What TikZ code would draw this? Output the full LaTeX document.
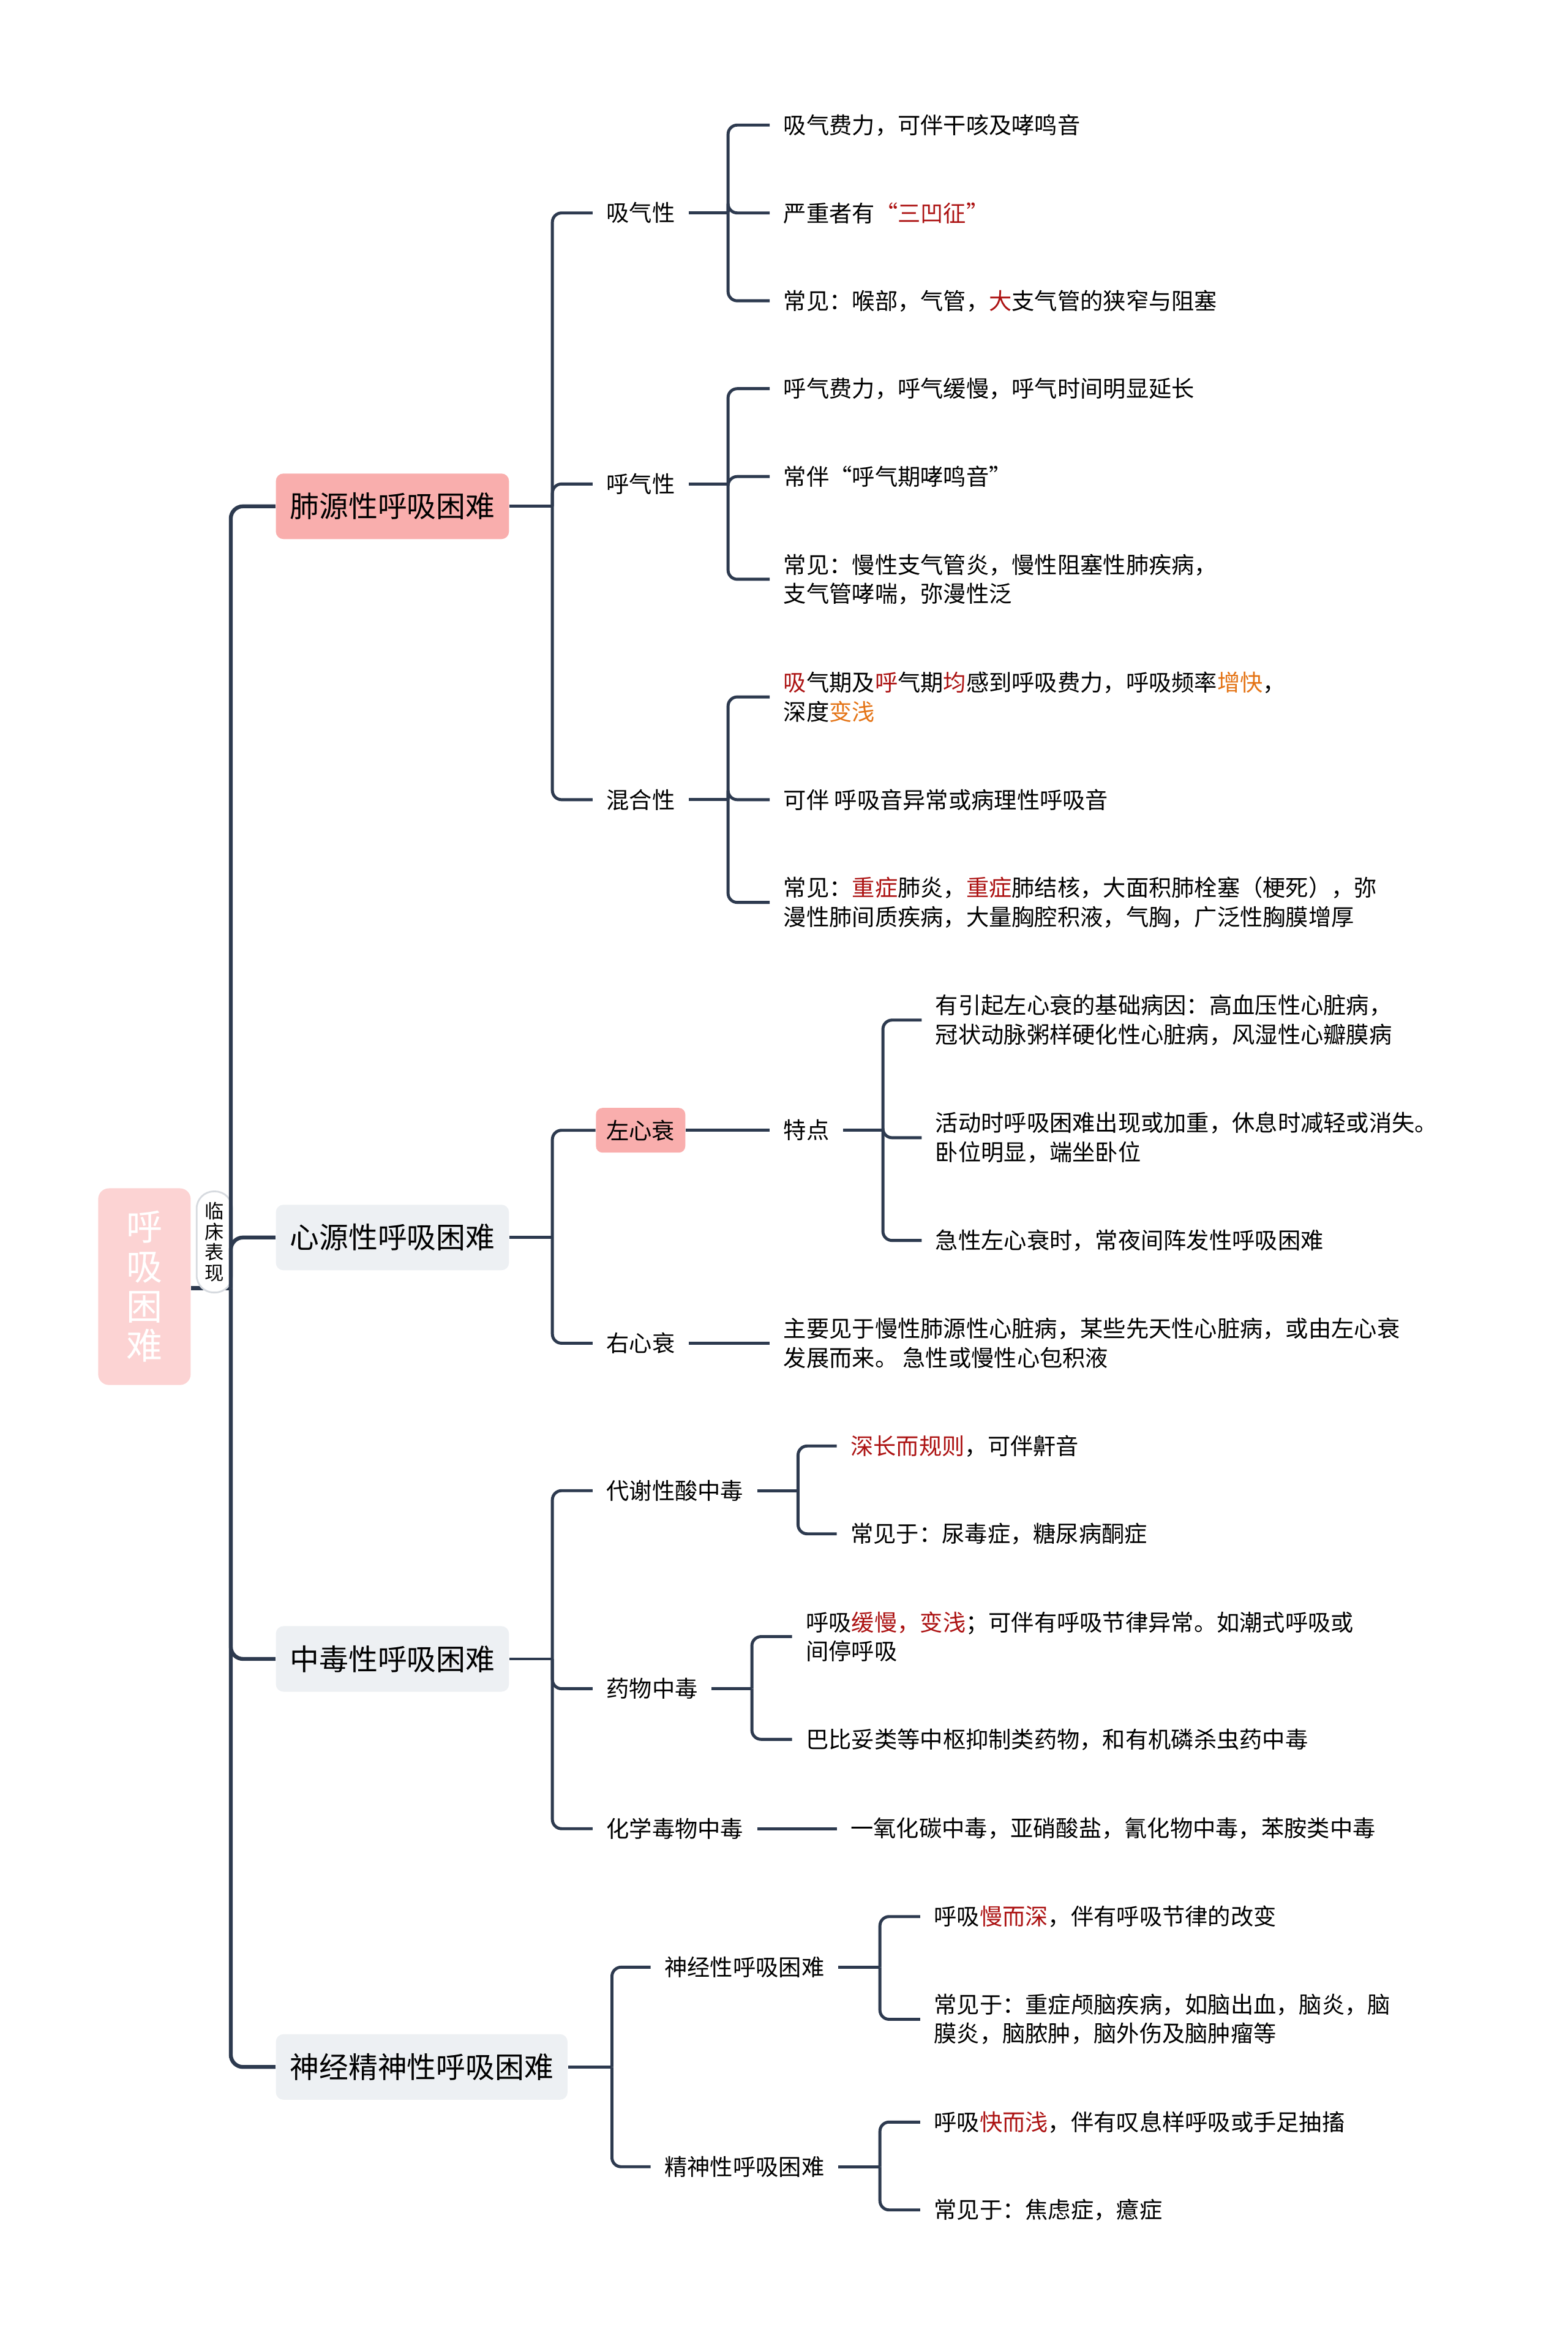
\documentclass[tikz,border=0pt]{standalone}
\usepackage{fontspec}
\setmainfont{Noto Sans CJK SC}
\usepackage{xcolor}
\usepackage{tikz}
\usetikzlibrary{positioning}

\definecolor{linkc}{RGB}{45,58,79}
\definecolor{pinkc}{RGB}{249,174,173}
\definecolor{rootc}{RGB}{252,211,211}
\definecolor{greyc}{RGB}{237,240,243}
\definecolor{pillc}{RGB}{214,218,223}
\definecolor{hl}{RGB}{172,18,18}
\definecolor{warm}{RGB}{228,116,22}

\begin{document}
\begin{tikzpicture}[
  x=0.02431cm, y=-0.02431cm,
  font=\fontsize{10.6}{13.5}\selectfont,
  rootbox/.style={rectangle, fill=rootc, rounded corners=5pt, text=white,
                  align=center, minimum width=1.51cm, minimum height=3.21cm,
                  font=\fontsize{16.8}{18.4}\selectfont},
  pill/.style={rectangle, draw=pillc, line width=0.8pt, fill=white,
               rounded corners=0.28cm, align=center, minimum width=0.58cm,
               minimum height=1.65cm, inner sep=0pt,
               font=\fontsize{8.9}{9.5}\selectfont},
  topic/.style={rectangle, rounded corners=3.5pt, fill=greyc, anchor=west,
                inner xsep=0.23cm, minimum height=1.07cm,
                font=\fontsize{13.6}{16}\selectfont},
  hottopic/.style={topic, fill=pinkc},
  subtopic/.style={anchor=west, inner xsep=0.22cm, inner ysep=2pt},
  hotsub/.style={rectangle, rounded corners=3pt, fill=pinkc, anchor=west,
                 inner xsep=0.17cm, minimum height=0.73cm},
  leaf/.style={anchor=west, align=left, inner xsep=0.22cm, inner ysep=2pt},
  link/.style={draw=linkc, line width=1.4pt, rounded corners=0.15cm},
  trunk/.style={draw=linkc, line width=1.8pt, rounded corners=0.2cm},
]
  \useasboundingbox (0,0) rectangle (1053,1568);

  % root and main topics
  \node[rootbox] (root) at (97,864) {呼\\吸\\困\\难};
  \node[hottopic] (lung)  at (185,340)  {肺源性呼吸困难};
  \node[topic]    (heart) at (185,831)  {心源性呼吸困难};
  \node[topic]    (toxic) at (185,1114) {中毒性呼吸困难};
  \node[topic]    (nerve) at (185,1388) {神经精神性呼吸困难};

  \coordinate (hub) at (155,865);
  \draw[trunk] (root.east |- hub) -- (hub);
  \node[pill] (clin) at (144,834) {临\\床\\表\\现};
  \draw[trunk] (hub) |- (lung.west);
  \draw[trunk] (hub) |- (heart.west);
  \draw[trunk] (hub) |- (toxic.west);
  \draw[trunk] (hub) |- (nerve.west);

  % lung
  \node[subtopic] (insp) at (398,143) {吸气性};
  \node[subtopic] (expi) at (398,325) {呼气性};
  \node[subtopic] (mixd) at (398,537) {混合性};
  \coordinate (lungj) at (371,340);
  \draw[link] (lung.east) -- (lungj);
  \draw[link] (lungj) |- (insp.west);
  \draw[link] (lungj) |- (expi.west);
  \draw[link] (lungj) |- (mixd.west);

  \node[leaf] (insp1) at (517,84)  {吸气费力，可伴干咳及哮鸣音};
  \node[leaf] (insp2) at (517,143) {严重者有\textcolor{hl}{“三凹征”}};
  \node[leaf] (insp3) at (517,202) {常见：喉部，气管，\textcolor{hl}{大}支气管的狭窄与阻塞};
  \coordinate (inspj) at (489,143);
  \draw[link] (insp.east) -- (inspj);
  \draw[link] (inspj) |- (insp1.west);
  \draw[link] (inspj) |- (insp2.west);
  \draw[link] (inspj) |- (insp3.west);

  \node[leaf] (expi1) at (517,261) {呼气费力，呼气缓慢，呼气时间明显延长};
  \node[leaf] (expi2) at (517,320) {常伴“呼气期哮鸣音”};
  \node[leaf] (expi3) at (517,389) {常见：慢性支气管炎，慢性阻塞性肺疾病，\\支气管哮喘，弥漫性泛};
  \coordinate (expij) at (489,325);
  \draw[link] (expi.east) -- (expij);
  \draw[link] (expij) |- (expi1.west);
  \draw[link] (expij) |- (expi2.west);
  \draw[link] (expij) |- (expi3.west);

  \node[leaf] (mixd1) at (517,468) {\textcolor{hl}{吸}气期及\textcolor{hl}{呼}气期\textcolor{hl}{均}感到呼吸费力，呼吸频率\textcolor{warm}{增快}，\\深度\textcolor{warm}{变浅}};
  \node[leaf] (mixd2) at (517,537) {可伴 呼吸音异常或病理性呼吸音};
  \node[leaf] (mixd3) at (517,606) {常见：\textcolor{hl}{重症}肺炎，\textcolor{hl}{重症}肺结核，大面积肺栓塞（梗死），弥\\漫性肺间质疾病，大量胸腔积液，气胸，广泛性胸膜增厚};
  \coordinate (mixdj) at (489,537);
  \draw[link] (mixd.east) -- (mixdj);
  \draw[link] (mixdj) |- (mixd1.west);
  \draw[link] (mixdj) |- (mixd2.west);
  \draw[link] (mixdj) |- (mixd3.west);

  % heart
  \node[hotsub]   (left)  at (400,759) {左心衰};
  \node[subtopic] (right) at (398,902) {右心衰};
  \coordinate (heartj) at (371,831);
  \draw[link] (heart.east) -- (heartj);
  \draw[link] (heartj) |- (left.west);
  \draw[link] (heartj) |- (right.west);

  \node[subtopic] (feat) at (517,759) {特点};
  \draw[link] (left.east) -- (feat.west);
  \node[leaf] (feat1) at (619,685) {有引起左心衰的基础病因：高血压性心脏病，\\冠状动脉粥样硬化性心脏病，风湿性心瓣膜病};
  \node[leaf] (feat2) at (619,764) {活动时呼吸困难出现或加重，休息时减轻或消失。\\卧位明显，端坐卧位};
  \node[leaf] (feat3) at (619,833) {急性左心衰时，常夜间阵发性呼吸困难};
  \coordinate (featj) at (593,759);
  \draw[link] (feat.east) -- (featj);
  \draw[link] (featj) |- (feat1.west);
  \draw[link] (featj) |- (feat2.west);
  \draw[link] (featj) |- (feat3.west);

  \node[leaf] (right1) at (517,902) {主要见于慢性肺源性心脏病，某些先天性心脏病，或由左心衰\\发展而来。 急性或慢性心包积液};
  \draw[link] (right.east) -- (right1.west);

  % toxic
  \node[subtopic] (acid) at (398,1001) {代谢性酸中毒};
  \node[subtopic] (drug) at (398,1134) {药物中毒};
  \node[subtopic] (chem) at (398,1228) {化学毒物中毒};
  \coordinate (toxicj) at (371,1114);
  \draw[link] (toxic.east) -- (toxicj);
  \draw[link] (toxicj) |- (acid.west);
  \draw[link] (toxicj) |- (drug.west);
  \draw[link] (toxicj) |- (chem.west);

  \node[leaf] (acid1) at (562,971)  {\textcolor{hl}{深长而规则}，可伴鼾音};
  \node[leaf] (acid2) at (562,1030) {常见于：尿毒症，糖尿病酮症};
  \coordinate (acidj) at (536,1001);
  \draw[link] (acid.east) -- (acidj);
  \draw[link] (acidj) |- (acid1.west);
  \draw[link] (acidj) |- (acid2.west);

  \node[leaf] (drug1) at (532,1099) {呼吸\textcolor{hl}{缓慢，变浅}；可伴有呼吸节律异常。如潮式呼吸或\\间停呼吸};
  \node[leaf] (drug2) at (532,1168) {巴比妥类等中枢抑制类药物，和有机磷杀虫药中毒};
  \coordinate (drugj) at (505,1134);
  \draw[link] (drug.east) -- (drugj);
  \draw[link] (drugj) |- (drug1.west);
  \draw[link] (drugj) |- (drug2.west);

  \node[leaf] (chem1) at (562,1228) {一氧化碳中毒，亚硝酸盐，氰化物中毒，苯胺类中毒};
  \draw[link] (chem.east) -- (chem1.west);

  % nerve
  \node[subtopic] (neuro) at (437,1321) {神经性呼吸困难};
  \node[subtopic] (psych) at (437,1455) {精神性呼吸困难};
  \coordinate (nervej) at (411,1388);
  \draw[link] (nerve.east) -- (nervej);
  \draw[link] (nervej) |- (neuro.west);
  \draw[link] (nervej) |- (psych.west);

  \node[leaf] (neuro1) at (618,1287) {呼吸\textcolor{hl}{慢而深}，伴有呼吸节律的改变};
  \node[leaf] (neuro2) at (618,1356) {常见于：重症颅脑疾病，如脑出血，脑炎，脑\\膜炎，脑脓肿，脑外伤及脑肿瘤等};
  \coordinate (neuroj) at (591,1321);
  \draw[link] (neuro.east) -- (neuroj);
  \draw[link] (neuroj) |- (neuro1.west);
  \draw[link] (neuroj) |- (neuro2.west);

  \node[leaf] (psych1) at (618,1425) {呼吸\textcolor{hl}{快而浅}，伴有叹息样呼吸或手足抽搐};
  \node[leaf] (psych2) at (618,1484) {常见于：焦虑症，癔症};
  \coordinate (psychj) at (591,1455);
  \draw[link] (psych.east) -- (psychj);
  \draw[link] (psychj) |- (psych1.west);
  \draw[link] (psychj) |- (psych2.west);

\end{tikzpicture}
\end{document}
